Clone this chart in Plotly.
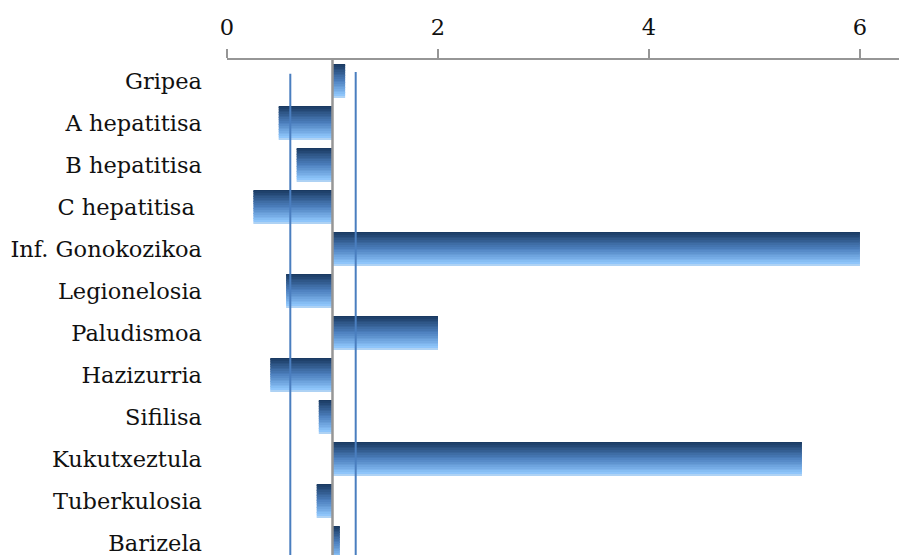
import plotly.graph_objects as go

# Relative risk by disease (bars drawn from a baseline of 1)
diseases = ["Gripea", "A hepatitisa", "B hepatitisa", "C hepatitisa\u00a0",
            "Inf. Gonokozikoa", "Legionelosia", "Paludismoa", "Hazizurria",
            "Sifilisa", "Kukutxeztula", "Tuberkulosia", "Barizela"]
ratios = [1.12, 0.49, 0.66, 0.25, 6.0, 0.56, 2.0, 0.41, 0.87, 5.45, 0.85, 1.07]
baseline = 1.0
lower_limit = 0.60
upper_limit = 1.22
x_ticks = [0, 2, 4, 6]

# vertical gradient stops (top -> bottom of each bar)
stops = [(0.0, (23, 54, 93)), (0.5, (76, 127, 189)), (0.92, (140, 196, 250)), (1.0, (190, 216, 242))]


def grad(t):
    for (t0, c0), (t1, c1) in zip(stops[:-1], stops[1:]):
        if t <= t1:
            f = (t - t0) / (t1 - t0) if t1 > t0 else 0
            return "rgb(%d,%d,%d)" % tuple(round(a + (b - a) * f) for a, b in zip(c0, c1))
    return "rgb(%d,%d,%d)" % stops[-1][1]


bar_w = 0.8
n_slices = 20
slice_w = bar_w / n_slices
lengths = [r - baseline for r in ratios]

fig = go.Figure()
for i in range(n_slices):
    fig.add_trace(go.Bar(
        y=diseases, x=lengths, base=[baseline] * len(diseases), orientation="h",
        width=slice_w * 1.02, offset=-bar_w / 2 + i * slice_w,
        marker=dict(color=grad((i + 0.5) / n_slices), line=dict(width=0)),
        showlegend=False, hoverinfo="skip",
    ))

font = "DejaVu Serif"
fsize = 22.5
fig.update_layout(
    width=899, height=555,
    margin=dict(l=227, r=0, t=60, b=0),
    plot_bgcolor="white", paper_bgcolor="white",
    barmode="overlay",
    font=dict(family=font, size=fsize, color="#111"),
    shapes=[
        dict(type="line", xref="x", yref="paper", x0=baseline, x1=baseline, y0=0, y1=1,
             line=dict(color="#969696", width=2.5), layer="above"),
        dict(type="line", xref="x", yref="paper", x0=lower_limit, x1=lower_limit, y0=0, y1=0.972,
             line=dict(color="#4A7EBF", width=2), layer="above"),
        dict(type="line", xref="x", yref="paper", x0=upper_limit, x1=upper_limit, y0=0, y1=0.976,
             line=dict(color="#4A7EBF", width=2), layer="above"),
    ],
)
fig.update_xaxes(
    side="top", range=[0, 6.37], tickvals=x_ticks, showgrid=False, zeroline=False,
    showline=True, linecolor="#969696", linewidth=2,
    ticks="outside", ticklen=9, tickwidth=1.5, tickcolor="#969696",
    ticklabelstandoff=5, tickfont=dict(family=font, size=fsize),
)
fig.update_yaxes(
    range=[11.286, -0.5], showgrid=False, zeroline=False, showline=False,
    ticks="", ticklabelstandoff=24, tickfont=dict(family=font, size=fsize),
)

fig.write_html("out.html")
